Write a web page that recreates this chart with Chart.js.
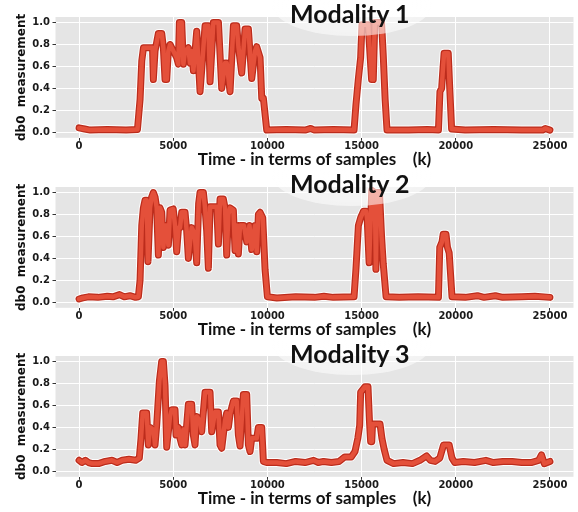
<!DOCTYPE html>
<html>
<head>
<meta charset="utf-8">
<script src="https://cdn.jsdelivr.net/npm/chart.js@4/dist/chart.umd.min.js"></script>
<style>
  body { margin: 0; background: #fff; }
  .panel { position: absolute; left: 0; width: 578px; height: 170px; overflow: hidden; }
  .panel canvas { position: absolute; left: 0; top: 0; }
  .glow {
    position: absolute; left: 272px; top: -26px; width: 160px; height: 62px; border-radius: 50%;
    background: radial-gradient(ellipse at center, rgba(255,255,255,0.62) 0%, rgba(255,255,255,0.55) 72%, rgba(255,255,255,0) 100%);
  }
  .title {
    position: absolute; left: 290px; top: 1px; font: 700 25px/24px Lato, sans-serif; color: #111; white-space: nowrap;
  }
</style>
</head>
<body>
<div class="panel" style="top:0px"><canvas id="c1" width="578" height="170"></canvas><div class="glow"></div><div class="title">Modality 1</div></div>
<div class="panel" style="top:170px"><canvas id="c2" width="578" height="170"></canvas><div class="glow"></div><div class="title">Modality 2</div></div>
<div class="panel" style="top:339px"><canvas id="c3" width="578" height="170"></canvas><div class="glow"></div><div class="title" style="top:2px">Modality 3</div></div>
<script>
// tick labels
const xTicks = [0, 5000, 10000, 15000, 20000, 25000];
const yTicks = [0, 0.2, 0.4, 0.6, 0.8, 1.0];

// Modality 1 (sample index, db0)
const m1X = [0, 300, 600, 1500, 2500, 3100, 3240, 3330, 3420, 3900, 3945, 4034, 4210, 4390, 4477, 4565, 4654, 4740, 4830, 5007,
  5184, 5272, 5325, 5450, 5538, 5626, 5800, 5892, 5980, 6070, 6247, 6424, 6600, 6690, 6866, 6955, 7130, 7400, 7485, 7574,
  7750, 7840, 8016, 8193, 8370, 8460, 8636, 8813, 8990, 9168, 9345, 9433, 9610, 9700, 9787, 9964,
  11000, 12000, 12300, 12500, 13500, 14600, 14700, 14830, 14950, 15020, 15350, 15530, 15620, 15700, 16060, 16150, 16250, 16350,
  17500, 18500, 19080, 19160, 19250, 19300, 19380, 19600, 19680, 19780, 20500, 22000, 23500, 24600, 24750, 25000];
const m1Y = [0.04, 0.03, 0.02, 0.025, 0.02, 0.025, 0.3, 0.65, 0.77, 0.77, 0.48, 0.74, 0.9, 0.9, 0.77, 0.48, 0.48, 0.74, 0.8, 0.74,
  0.68, 0.62, 1.0, 1.0, 0.62, 0.74, 0.77, 0.63, 0.74, 0.56, 0.92, 0.37, 0.77, 0.97, 0.97, 0.46, 1.0, 1.0, 0.71, 0.4,
  0.63, 0.63, 0.37, 0.97, 0.97, 0.78, 0.54, 0.94, 0.94, 0.49, 0.74, 0.78, 0.68, 0.31, 0.31, 0.02,
  0.025, 0.02, 0.035, 0.02, 0.025, 0.02, 0.25, 0.49, 0.68, 0.98, 0.98, 0.48, 0.48, 1.0, 1.0, 0.7, 0.3, 0.02,
  0.02, 0.025, 0.02, 0.37, 0.4, 0.53, 0.72, 0.72, 0.4, 0.03, 0.02, 0.025, 0.02, 0.02, 0.035, 0.02];

// Modality 2
const m2X = [0, 200, 500, 1000, 1500, 1800, 2150, 2400, 2700, 3000, 3150, 3238, 3330, 3415, 3503, 3592, 3660, 3769, 3857, 3945,
  4034, 4122, 4211, 4300, 4388, 4477, 4560, 4654, 4742, 4830, 5000, 5096, 5184, 5280, 5361, 5450, 5627, 5715, 5803, 5980,
  6069, 6157, 6246, 6350, 6423, 6600, 6689, 6777, 6866, 6954, 7308, 7397, 7485, 7662, 7751, 7839, 7930, 8016, 8193, 8281,
  8370, 8458, 8547, 8750, 8901, 9050, 9166, 9344, 9432, 9521, 9609, 9751, 9875, 10000,
  10500, 11500, 12500, 13000, 13500, 14600, 14700, 14830, 14950, 15100, 15240, 15300, 15400, 15540, 15700, 15760, 15820, 15950,
  16060, 16150, 16300, 17000, 18000, 19080, 19150, 19270, 19330, 19480, 19560, 19650, 19800, 20500, 21150, 21500, 22100, 22500,
  23500, 24200, 25000];
const m2Y = [0.03, 0.04, 0.05, 0.045, 0.055, 0.05, 0.07, 0.05, 0.06, 0.045, 0.05, 0.2, 0.7, 0.86, 0.93, 0.93, 0.37, 0.86, 0.96, 1.0,
  0.96, 0.86, 0.43, 0.86, 0.82, 0.5, 0.7, 0.7, 0.52, 0.84, 0.85, 0.7, 0.46, 0.68, 0.68, 0.82, 0.82, 0.65, 0.4, 0.68,
  0.65, 0.58, 0.36, 0.9, 1.0, 1.0, 0.86, 0.65, 0.31, 0.87, 0.87, 0.53, 0.94, 0.94, 0.86, 0.43, 0.8, 0.86, 0.84, 0.47,
  0.7, 0.44, 0.7, 0.7, 0.55, 0.7, 0.48, 0.7, 0.46, 0.8, 0.82, 0.77, 0.3, 0.05,
  0.04, 0.05, 0.045, 0.055, 0.045, 0.05, 0.3, 0.7, 0.77, 0.83, 0.83, 0.75, 0.36, 1.02, 1.0, 0.3, 1.0, 1.0,
  0.6, 0.35, 0.05, 0.045, 0.05, 0.045, 0.5, 0.55, 0.62, 0.62, 0.5, 0.45, 0.05, 0.045, 0.06, 0.045, 0.06, 0.045,
  0.05, 0.055, 0.045];

// Modality 3
const m3X = [0, 150, 340, 500, 700, 1030, 1390, 1750, 2020, 2290, 2650, 3010, 3200, 3290, 3380, 3590, 3680, 3770, 3950, 4034,
  4122, 4265, 4388, 4477, 4565, 4654, 4830, 4919, 5096, 5149, 5272, 5361, 5450, 5538, 5627, 5804, 5980, 6069, 6157, 6246,
  6423, 6511, 6688, 6954, 7043, 7220, 7397, 7485, 7574, 7751, 7839, 7928, 8016, 8193, 8370, 8458, 8547, 8724, 8901, 8990,
  9078, 9167, 9432, 9521, 9698, 9786, 9963, 10500,
  11000, 11500, 12000, 12450, 12700, 12980, 13400, 13800, 14100, 14450, 14650, 14800, 14900, 14950, 15180, 15340, 15420, 15480,
  15540, 15580, 15980, 16080, 16200, 16350, 16700, 17200, 17700, 18100, 18450, 18650, 18900, 19150, 19350, 19650, 19800, 19950,
  20400, 21000, 21600, 22000, 22500, 23000, 23500, 24000, 24400, 24550, 24700, 25000];
const m3Y = [0.1, 0.08, 0.1, 0.08, 0.07, 0.07, 0.09, 0.1, 0.08, 0.1, 0.11, 0.1, 0.12, 0.3, 0.53, 0.53, 0.24, 0.4, 0.38, 0.24,
  0.42, 0.82, 1.0, 1.0, 0.78, 0.22, 0.5, 0.56, 0.56, 0.33, 0.4, 0.3, 0.24, 0.38, 0.24, 0.61, 0.61, 0.33, 0.24, 0.5,
  0.46, 0.36, 0.72, 0.72, 0.36, 0.54, 0.54, 0.24, 0.21, 0.46, 0.53, 0.4, 0.52, 0.64, 0.64, 0.33, 0.23, 0.7, 0.7, 0.24,
  0.18, 0.3, 0.3, 0.4, 0.4, 0.09, 0.08, 0.08,
  0.07, 0.09, 0.08, 0.1, 0.08, 0.09, 0.08, 0.09, 0.13, 0.13, 0.18, 0.3, 0.42, 0.72, 0.77, 0.77, 0.45, 0.27,
  0.27, 0.43, 0.43, 0.3, 0.2, 0.1, 0.07, 0.08, 0.07, 0.1, 0.14, 0.1, 0.09, 0.12, 0.24, 0.24, 0.12, 0.08,
  0.09, 0.08, 0.1, 0.08, 0.09, 0.09, 0.08, 0.08, 0.1, 0.15, 0.07, 0.09];

const panelBg = {
  id: 'panelBg',
  beforeDraw(chart) {
    const { ctx, chartArea: a } = chart;
    ctx.save();
    ctx.fillStyle = '#e5e5e5';
    ctx.fillRect(a.left, a.top, a.right - a.left, a.bottom - a.top);
    ctx.restore();
  }
};

function makeChart(id, xs, ys) {
  const pts = xs.map((x, i) => ({ x: x, y: ys[i] }));
  // same series three times: white halo under a dark edge under the bright core
  const line = (color, w, order) => ({
    data: pts, borderColor: color, borderWidth: w, pointRadius: 0, order: order,
    borderJoinStyle: 'round', borderCapStyle: 'round', tension: 0, fill: false
  });
  new Chart(document.getElementById(id), {
    type: 'line',
    data: {
      datasets: [
        line('rgba(255,255,255,0.9)', 9, 3),
        line('#bc2c1c', 7, 2),
        line('#e4503a', 4.5, 1)
      ]
    },
    options: {
      responsive: false,
      animation: false,
      events: [],
      layout: { padding: { top: 17, right: 4.5, left: 0, bottom: 0 } },
      plugins: { legend: { display: false }, tooltip: { enabled: false } },
      scales: {
        x: {
          type: 'linear',
          min: -1250,
          max: 26250,
          afterFit: (s) => { s.height = 32.2; },
          afterBuildTicks: (s) => { s.ticks = xTicks.map(v => ({ value: v })); },
          border: { display: false },
          grid: { color: '#ffffff', lineWidth: 1, drawTicks: true, tickLength: 3, tickColor: '#333', tickWidth: 1 },
          ticks: {
            padding: 0, autoSkip: false, maxRotation: 0,
            font: { family: 'DejaVu Sans', weight: 'bold', size: 10 }, color: '#1a1a1a',
            callback: (v) => String(v)
          },
          title: {
            display: true, text: 'Time - in terms of samples    (k)',
            font: { family: 'Lato', weight: 'bold', size: 17 }, color: '#111',
            padding: { top: 0, bottom: 0.5 }
          }
        },
        y: {
          min: -0.05,
          max: 1.05,
          afterFit: (s) => { s.width = 55.5; },
          afterBuildTicks: (s) => { s.ticks = yTicks.map(v => ({ value: v })); },
          border: { display: false },
          grid: { color: '#ffffff', lineWidth: 1, drawTicks: true, tickLength: 3, tickColor: '#333', tickWidth: 1 },
          ticks: {
            padding: 2.5,
            font: { family: 'DejaVu Sans', weight: 'bold', size: 10 }, color: '#1a1a1a',
            callback: (v) => v.toFixed(1)
          },
          title: {
            display: true, text: 'db0  measurement',
            font: { family: 'DejaVu Sans', weight: 'bold', size: 12 }, color: '#111',
            padding: { top: 15, bottom: 0 }
          }
        }
      }
    },
    plugins: [panelBg]
  });
}

makeChart('c1', m1X, m1Y);
makeChart('c2', m2X, m2Y);
makeChart('c3', m3X, m3Y);
</script>
</body>
</html>
